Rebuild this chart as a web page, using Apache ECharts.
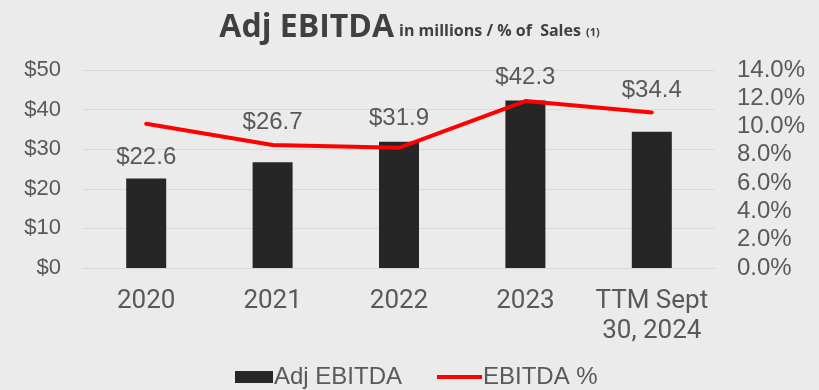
<!DOCTYPE html>
<html>
<head>
<meta charset="utf-8">
<script src="https://cdn.jsdelivr.net/npm/echarts@6/dist/echarts.min.js"></script>
<style>
  html, body { margin: 0; padding: 0; background: #ebebeb; }
  #chart { width: 819px; height: 390px; }
</style>
</head>
<body>
<div id="chart"></div>
<script>
// Adj EBITDA ($M) and EBITDA margin by period
const categories = ['2020', '2021', '2022', '2023', 'TTM Sept\n30, 2024'];
const adjEbitda = [22.6, 26.7, 31.9, 42.3, 34.4];
const ebitdaPct = [10.2, 8.7, 8.5, 11.8, 11.0];
const leftTicks = { min: 0, max: 50, interval: 10 };
const rightTicks = { min: 0, max: 14, interval: 2 };

// gap between each bar top and its value label
const labelLift = [9, 28, 11, 11, 29];

const grey = '#595959';
const legendText = { fontFamily: 'Liberation Sans', fontSize: 24, color: grey, padding: [0, 0, 0, -4] };
const chart = echarts.init(document.getElementById('chart'), null, { renderer: 'canvas' });

chart.setOption({
  backgroundColor: '#ebebeb',
  animation: false,
  title: {
    left: 'center',
    top: -1,
    text: '{a|Adj EBITDA} {b|in millions / % of  Sales} {c|(1)}',
    textStyle: {
      rich: {
        a: { fontFamily: 'Open Sans', fontWeight: 'bold', fontSize: 32, color: '#404040', verticalAlign: 'bottom', lineHeight: 40 },
        b: { fontFamily: 'Open Sans', fontWeight: 'bold', fontSize: 16, color: '#404040', verticalAlign: 'bottom', lineHeight: 40, padding: [0, 0, 5, 0] },
        c: { fontFamily: 'Open Sans', fontWeight: 'bold', fontSize: 11, color: '#404040', verticalAlign: 'bottom', lineHeight: 40, padding: [0, 0, 6, 0] }
      }
    }
  },
  legend: [
    {
      left: 235,
      top: 365,
      padding: 0,
      itemWidth: 38,
      itemHeight: 12,
      textStyle: legendText,
      data: [{ name: 'Adj EBITDA', icon: 'rect' }]
    },
    {
      left: 437,
      top: 365,
      padding: 0,
      itemWidth: 45,
      itemHeight: 4,
      itemStyle: { color: '#ff0000' },
      textStyle: legendText,
      data: [{ name: 'EBITDA %', icon: 'rect' }]
    }
  ],
  grid: { left: 83, right: 104, top: 70, bottom: 122 },
  xAxis: {
    type: 'category',
    data: categories,
    axisTick: { show: false },
    axisLine: { show: true, lineStyle: { color: '#d6d6d6', width: 1 } },
    axisLabel: {
      fontFamily: 'Roboto',
      fontSize: 26,
      color: grey,
      lineHeight: 30,
      margin: 18,
      interval: 0
    }
  },
  yAxis: [
    {
      type: 'value',
      min: leftTicks.min,
      max: leftTicks.max,
      interval: leftTicks.interval,
      axisLine: { show: false },
      axisTick: { show: false },
      splitLine: { lineStyle: { color: '#d9d9d9', width: 1 } },
      axisLabel: {
        fontFamily: 'Liberation Sans',
        fontSize: 22,
        color: grey,
        margin: 22,
        formatter: v => '$' + v
      }
    },
    {
      type: 'value',
      min: rightTicks.min,
      max: rightTicks.max,
      interval: rightTicks.interval,
      axisLine: { show: false },
      axisTick: { show: false },
      splitLine: { show: false },
      axisLabel: {
        fontFamily: 'Liberation Sans',
        fontSize: 24,
        color: grey,
        margin: 22,
        formatter: v => v.toFixed(1) + '%'
      }
    }
  ],
  series: [
    {
      name: 'Adj EBITDA',
      type: 'bar',
      yAxisIndex: 0,
      barWidth: 40,
      itemStyle: { color: '#262626' },
      data: adjEbitda.map((v, i) => ({
        value: v,
        label: { distance: labelLift[i] }
      })),
      label: {
        show: true,
        position: 'top',
        fontFamily: 'Liberation Sans',
        fontSize: 24,
        color: grey,
        formatter: p => '$' + p.value.toFixed(1)
      },
      z: 2
    },
    {
      name: 'EBITDA %',
      type: 'line',
      yAxisIndex: 1,
      data: ebitdaPct,
      symbol: 'none',
      lineStyle: { color: '#ff0000', width: 4, cap: 'round', join: 'round' },
      itemStyle: { color: '#ff0000' },
      z: 3
    }
  ]
});
</script>
</body>
</html>
